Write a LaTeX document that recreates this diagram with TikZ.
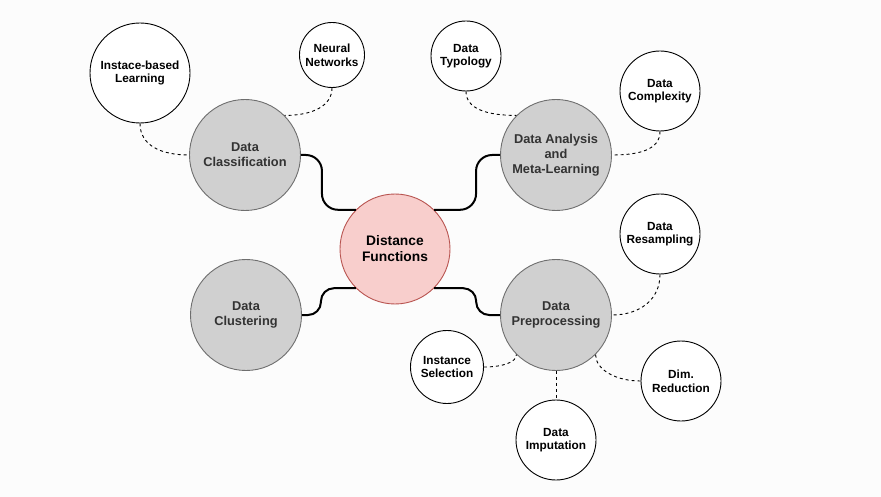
\documentclass[tikz,border=0pt]{standalone}
\usepackage{fontspec}
\setmainfont{Liberation Sans}
\definecolor{bgcol}{HTML}{FCFCFC}
\definecolor{grayfill}{HTML}{D0D0D0}
\definecolor{grayline}{HTML}{6E6E6E}
\definecolor{graytext}{HTML}{333333}
\definecolor{redfill}{HTML}{F8CECC}
\definecolor{redline}{HTML}{B85450}
\begin{document}
\begin{tikzpicture}[x=1pt,y=-1pt,
  base/.style={circle,align=center,inner sep=1pt,line width=0.9pt},
  graynode/.style={base,draw=grayline,fill=grayfill,text=graytext,minimum size=111pt,
    font=\fontsize{12.8}{14.8}\selectfont\bfseries},
  centernode/.style={base,draw=redline,fill=redfill,text=black,minimum size=110pt,
    font=\fontsize{13.8}{16}\selectfont\bfseries},
  smallnode/.style={base,draw=black,fill=white,text=black,
    font=\fontsize{11.8}{13.6}\selectfont\bfseries},
  solidlink/.style={draw=black,line width=2pt,rounded corners=16pt},
  dashlink/.style={draw=black,line width=0.9pt,dash pattern=on 3pt off 3pt}
]
\fill[bgcol] (0,0) rectangle (881,497);
\useasboundingbox (0,0) rectangle (881,497);

% main nodes
\node[graynode] (dc) at (245,155) {Data\\Classification};
\node[graynode] (da) at (556,155) {Data Analysis\\and\\Meta-Learning};
\node[graynode] (dcl) at (246,315) {Data\\Clustering};
\node[graynode] (dp) at (556,315) {Data\\Preprocessing};
\node[centernode] (df) at (395,249) {Distance\\Functions};

% leaf nodes
\node[smallnode,minimum size=100pt] (ibl) at (140,73) {Instace-based\\Learning};
\node[smallnode,minimum size=65pt] (nn) at (332,55) {Neural\\Networks};
\node[smallnode,minimum size=70pt] (dt) at (466,56) {Data\\Typology};
\node[smallnode,minimum size=80pt] (dcx) at (660,91) {Data\\Complexity};
\node[smallnode,minimum size=80pt] (drs) at (660,234) {Data\\Resampling};
\node[smallnode,minimum size=73pt] (is) at (447,367) {Instance\\Selection};
\node[smallnode,minimum size=80pt] (dim) at (681,381) {Dim.\\Reduction};
\node[smallnode,minimum size=80pt] (imp) at (556,440) {Data\\Imputation};

% solid connectors
\draw[solidlink] (dc.east) -- ++(21,0) |- (df.135);
\draw[solidlink] (da.west) -- ++(-24,0) |- (df.45);
\draw[solidlink,rounded corners=13pt] (dcl.east) -- ++(19,0) |- (df.225);
\draw[solidlink,rounded corners=13pt] (df.315) -- ++(42,0) |- (dp.west);

% dashed connectors
\draw[dashlink] (ibl.south) .. controls +(0,22) and +(-28,0) .. (dc.west);
\draw[dashlink] (nn.south) .. controls +(0,18) and +(28,0) .. (dc.45);
\draw[dashlink] (dt.south) .. controls +(0,18) and +(-28,0) .. (da.135);
\draw[dashlink] (dcx.south) .. controls +(0,18) and +(28,0) .. (da.east);
\draw[dashlink] (drs.south) .. controls +(0,25) and +(28,0) .. (dp.east);
\draw[dashlink] (is.east) .. controls +(18,0) and +(0,8) .. (dp.225);
\draw[dashlink] (dim.west) .. controls +(-25,0) and +(0,15) .. (dp.315);
\draw[dashlink] (dp.south) -- (imp.north);
\end{tikzpicture}
\end{document}
